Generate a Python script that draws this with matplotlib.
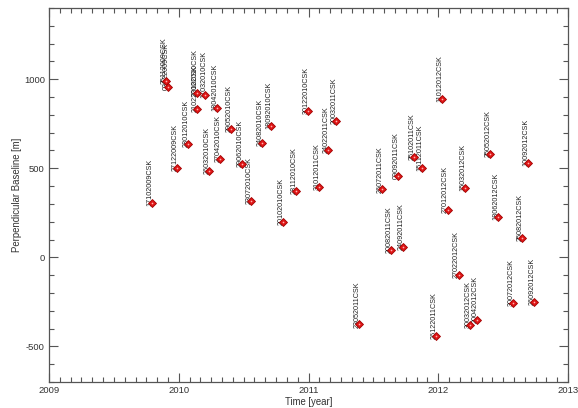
import matplotlib
matplotlib.use("Agg")
import matplotlib.pyplot as plt
from matplotlib.ticker import MultipleLocator, FuncFormatter
import datetime as dt

# acquisition labels (DDMMYYYY + sensor)
labels = [
    "17102009CSK", "25112009CSK", "03122009CSK", "27122009CSK",
    "28012010CSK", "21022010CSK", "22022010CSK", "17032010CSK", "26032010CSK",
    "18042010CSK", "27042010CSK", "29052010CSK", "29062010CSK", "23072010CSK",
    "24082010CSK", "18092010CSK", "20102010CSK", "28112010CSK", "30122010CSK",
    "31012011CSK", "24022011CSK", "20032011CSK", "23052011CSK", "26072011CSK",
    "20082011CSK", "09092011CSK", "24092011CSK", "25102011CSK", "15112011CSK",
    "26122011CSK",
    "11012012CSK", "27012012CSK", "27022012CSK", "15032012CSK", "30032012CSK",
    "20042012CSK", "25052012CSK", "18062012CSK", "30072012CSK", "25082012CSK",
    "10092012CSK", "26092012CSK",
]
# perpendicular baseline [m]
baselines = [
    305, 990, 958, 502,
    636, 833, 925, 912, 486,
    840, 551, 720, 522, 317,
    640, 739, 201, 373, 822,
    396, 602, 765, -377, 381,
    39, 458, 58, 563, 501,
    -439,
    889, 268, -101, 388, -379,
    -351, 580, 227, -257, 109,
    531, -248,
]

def decimal_year(lbl):
    d = dt.date(int(lbl[4:8]), int(lbl[2:4]), int(lbl[0:2]))
    start = dt.date(d.year, 1, 1)
    ndays = (dt.date(d.year + 1, 1, 1) - start).days
    return d.year + (d - start).days / ndays

times = [decimal_year(l) for l in labels]

plt.rcParams['font.family'] = ['Liberation Sans', 'DejaVu Sans']

fig = plt.figure(figsize=(5.78, 4.08), dpi=100)
ax = fig.add_axes([0.0848, 0.0637, 0.898, 0.9167])

txt_col = '#333333'
for t, b, l in zip(times, baselines, labels):
    ax.annotate(l, xy=(t, b), xytext=(1.2, -2.2), textcoords='offset points',
                rotation=90, ha='right', va='bottom', fontsize=5.2,
                color='#222222', zorder=2, annotation_clip=False)

ax.plot(times, baselines, linestyle='none', marker='D', ms=4.3,
        mfc='#e01818', mec='#a00000', mew=0.6, zorder=3)
ax.plot(times, baselines, linestyle='none', marker='o', ms=1.2,
        mfc='#ffb0b0', mec='none', zorder=4)

ax.set_xlim(2009, 2013)
ax.set_ylim(-700, 1400)
ax.xaxis.set_major_locator(MultipleLocator(1))
ax.xaxis.set_minor_locator(MultipleLocator(1/12))
ax.yaxis.set_major_locator(MultipleLocator(500))
ax.yaxis.set_minor_locator(MultipleLocator(100))
ax.xaxis.set_major_formatter(FuncFormatter(lambda v, p: f"{int(round(v))}"))
ax.yaxis.set_major_formatter(FuncFormatter(lambda v, p: f"{int(round(v))}"))

ax.tick_params(which='both', direction='in', top=True, right=True,
               color='#555555', labelsize=6.8, labelcolor=txt_col, width=0.8)
ax.tick_params(which='major', length=6.5, pad=3)
ax.tick_params(which='minor', length=3.6)

for s in ax.spines.values():
    s.set_color('#555555')
    s.set_linewidth(0.9)

ax.set_xlabel('Time [year]', fontsize=6.9, color=txt_col, labelpad=1)
ax.set_ylabel('Perpendicular Baseline [m]', fontsize=6.9, color=txt_col, labelpad=1.5)

fig.savefig('out.png', dpi=100)
